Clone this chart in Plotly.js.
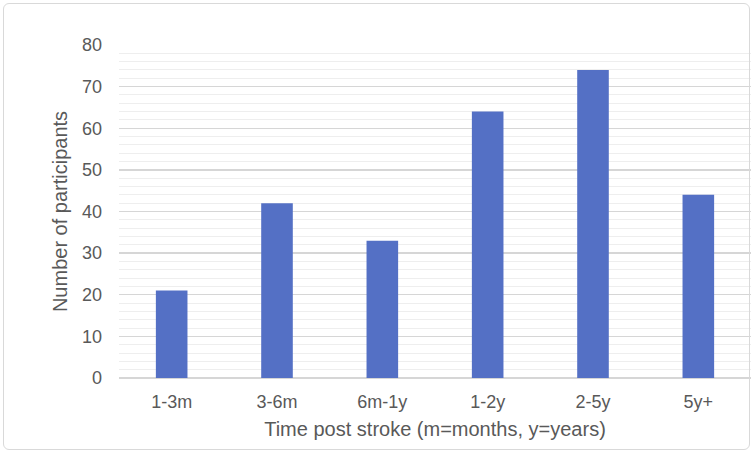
<!DOCTYPE html>
<html>
<head>
<meta charset="utf-8">
<script src="https://cdn.plot.ly/plotly-3.0.1.min.js"></script>
<style>
  html, body { margin: 0; padding: 0; background: #fff; }
  #wrap { position: relative; width: 755px; height: 455px; }
  #chart { position: absolute; left: 0; top: 0; width: 755px; height: 455px; }
  #frame {
    position: absolute; left: 3px; top: 3px; width: 745px; height: 445px;
    border: 1.5px solid #d9d9d9; border-radius: 6px; pointer-events: none;
  }
</style>
</head>
<body>
<div id="wrap">
  <div id="chart"></div>
  <div id="frame"></div>
</div>
<script>
const categories = ["1-3m", "3-6m", "6m-1y", "1-2y", "2-5y", "5y+"];
const participants = [21, 42, 33, 64, 74, 44];

const textColor = "#595959";
const font = { family: "Liberation Sans, Arial, sans-serif", size: 18, color: textColor };
const titleFont = { family: font.family, size: 20, color: textColor };

Plotly.newPlot(
  "chart",
  [
    {
      x: categories,
      y: participants,
      type: "bar",
      width: 0.3,
      marker: { color: "#5470C5" },
      hoverinfo: "x+y",
    },
  ],
  {
    width: 755,
    height: 455,
    margin: { l: 119, r: 4, t: 45, b: 77 },
    paper_bgcolor: "rgba(0,0,0,0)",
    plot_bgcolor: "rgba(0,0,0,0)",
    font: font,
    showlegend: false,
    xaxis: {
      type: "category",
      showgrid: false,
      showline: false,
      zeroline: false,
      ticks: "",
      ticklabelstandoff: 11,
      tickfont: font,
      title: {
        text: "Time post stroke (m=months, y=years)",
        font: titleFont,
        standoff: 10,
      },
    },
    yaxis: {
      range: [0, 80],
      dtick: 10,
      showgrid: true,
      gridcolor: "#d6d6d6",
      gridwidth: 1.4,
      zeroline: true,
      zerolinecolor: "#d6d6d6",
      zerolinewidth: 1.4,
      showline: false,
      ticks: "",
      ticklabelstandoff: 16,
      tickfont: font,
      minor: { dtick: 2, showgrid: true, gridcolor: "#eeeeee", gridwidth: 1 },
      title: {
        text: "Number of participants",
        font: titleFont,
        standoff: 8,
      },
    },
  },
  { displayModeBar: false, staticPlot: true }
);
</script>
</body>
</html>
